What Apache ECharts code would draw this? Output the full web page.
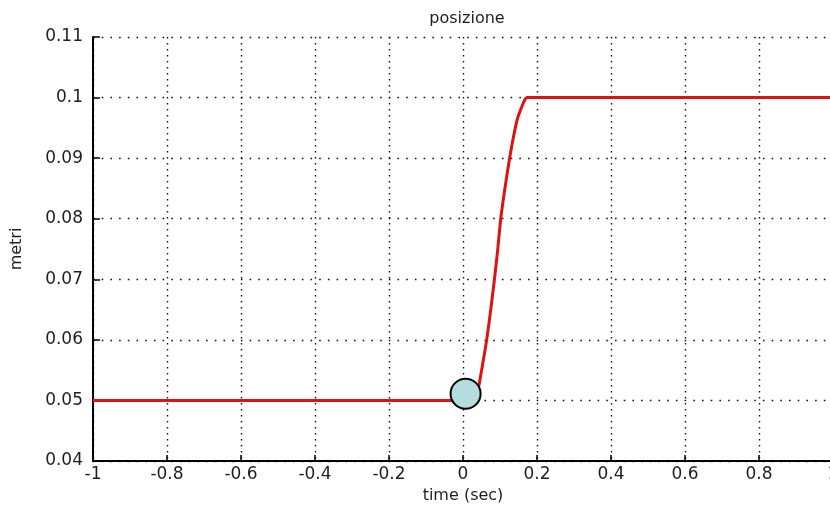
<!DOCTYPE html>
<html>
<head>
<meta charset="utf-8">
<title>posizione</title>
<script src="https://cdn.jsdelivr.net/npm/echarts@6/dist/echarts.min.js"></script>
<style>
  html, body { margin: 0; padding: 0; background: #ffffff; }
  #chart { width: 830px; height: 507px; }
</style>
</head>
<body>
<div id="chart"></div>
<script>
// Position trajectory: time (s) and position (m)
const timeSec = [-1, 0.02, 0.03, 0.038, 0.044, 0.054, 0.064, 0.075, 0.085, 0.094,
                 0.102, 0.114, 0.126, 0.137, 0.147, 0.157, 0.166, 0.173, 1];
const positionM = [0.05, 0.05, 0.0503, 0.0512, 0.0528, 0.0563, 0.06, 0.065, 0.07, 0.075,
                   0.08, 0.0853, 0.09, 0.0937, 0.0965, 0.0982, 0.0995, 0.1, 0.1];

// Starting point marker
const startTime = [0.007];
const startPos = [0.0511];

// Axis ticks
const xTickValues = [-1, -0.8, -0.6, -0.4, -0.2, 0, 0.2, 0.4, 0.6, 0.8, 1];
const xTickLabels = ['-1', '-0.8', '-0.6', '-0.4', '-0.2', '0', '0.2', '0.4', '0.6', '0.8', '1'];
const yTickValues = [0.04, 0.05, 0.06, 0.07, 0.08, 0.09, 0.1, 0.11];
const yTickLabels = ['0.04', '0.05', '0.06', '0.07', '0.08', '0.09', '0.1', '0.11'];

function labelFor(values, labels) {
  return function (v) {
    let best = 0;
    for (let i = 1; i < values.length; i++) {
      if (Math.abs(values[i] - v) < Math.abs(values[best] - v)) best = i;
    }
    return labels[best];
  };
}

const FONT = 'DejaVu Sans';
const TEXT = '#1e1e1e';

const chart = echarts.init(document.getElementById('chart'), null, { renderer: 'canvas' });

chart.setOption({
  backgroundColor: '#ffffff',
  animation: false,
  title: {
    text: 'posizione',
    left: 462,
    top: 6,
    textAlign: 'center',
    textStyle: { fontFamily: FONT, fontSize: 16, fontWeight: 'normal', color: TEXT }
  },
  grid: { left: 93, right: -3, top: 37, bottom: 46, containLabel: false, outerBoundsMode: 'none' },
  xAxis: {
    type: 'value',
    min: xTickValues[0],
    max: xTickValues[xTickValues.length - 1],
    interval: +(xTickValues[1] - xTickValues[0]).toFixed(6),
    name: 'time (sec)',
    nameLocation: 'middle',
    nameGap: 27,
    nameTextStyle: { fontFamily: FONT, fontSize: 16, color: TEXT },
    axisLine: { onZero: false, lineStyle: { color: '#000', width: 2 } },
    axisTick: { inside: true, length: 6, lineStyle: { color: '#000', width: 1.5 } },
    axisLabel: {
      fontFamily: FONT, fontSize: 17, color: TEXT, margin: 5,
      formatter: labelFor(xTickValues, xTickLabels)
    },
    splitLine: { show: true, lineStyle: { color: '#111', width: 1.4, type: [1.4, 4.6] } }
  },
  yAxis: {
    type: 'value',
    min: yTickValues[0],
    max: yTickValues[yTickValues.length - 1],
    interval: +(yTickValues[1] - yTickValues[0]).toFixed(6),
    name: 'metri',
    nameLocation: 'middle',
    nameGap: 68,
    nameRotate: 90,
    nameTextStyle: { fontFamily: FONT, fontSize: 16, color: TEXT },
    axisLine: { onZero: false, lineStyle: { color: '#000', width: 2 } },
    axisTick: { inside: true, length: 7, lineStyle: { color: '#000', width: 1.5 } },
    axisLabel: {
      fontFamily: FONT, fontSize: 17, color: TEXT, margin: 10,
      formatter: labelFor(yTickValues, yTickLabels)
    },
    splitLine: { show: true, lineStyle: { color: '#111', width: 1.4, type: [1.6, 7.1] } }
  },
  series: [
    {
      type: 'line',
      data: timeSec.map((t, i) => [t, positionM[i]]),
      showSymbol: false,
      smooth: 0.25,
      lineStyle: { color: '#dd1212', width: 3 },
      z: 3
    },
    {
      type: 'scatter',
      data: startTime.map((t, i) => [t, startPos[i]]),
      symbol: 'circle',
      symbolSize: 30,
      itemStyle: { color: '#b5dde0', borderColor: '#000', borderWidth: 2, opacity: 1 },
      z: 5
    }
  ]
});
</script>
</body>
</html>
